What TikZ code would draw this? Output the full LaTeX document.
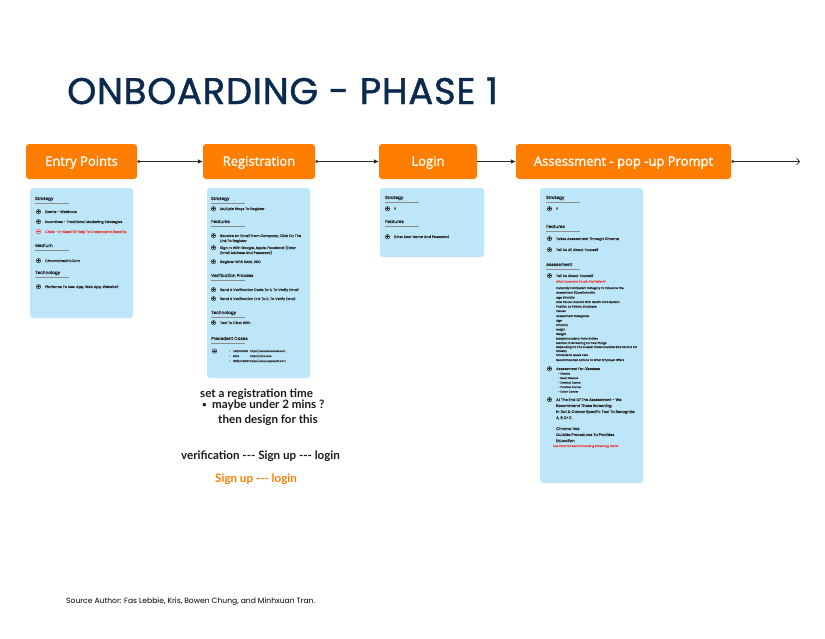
\documentclass[tikz,border=0pt]{standalone}
\usepackage{fontspec}
\setmainfont{Poppins}
\newfontfamily\ttlfont{Poppins}[LetterSpace=2,FakeBold=1.2]
\newfontfamily\btnfont{Open Sans}[FakeBold=1.5]
\newfontfamily\notefont{Lato}[Ligatures=TeXOff]
\newfontfamily\cardfont{Poppins}[FakeBold=0.4]
\newfontfamily\hdfont{Poppins}[FakeBold=0.9]
\usetikzlibrary{arrows.meta}
\definecolor{orng}{HTML}{FF7D00}
\definecolor{cardb}{HTML}{BEE6F9}
\definecolor{navy}{HTML}{0B2A4D}
\definecolor{redt}{HTML}{E8423F}
\definecolor{ink}{HTML}{2B2B2B}
\tikzset{
  hd/.style={anchor=base west, inner sep=0, font=\hdfont\fontsize{4.3}{5}\selectfont, text=ink},
  it/.style={anchor=base west, inner sep=0, font=\cardfont\fontsize{3.5}{4}\selectfont, text=ink},
  itb/.style={anchor=base west, inner sep=0, font=\cardfont\fontsize{3.7}{4.5}\selectfont, text=ink},
  sm/.style={anchor=base west, inner sep=0, font=\cardfont\fontsize{2.8}{3.3}\selectfont, text=ink},
  ic/.style={circle, draw=ink, line width=0.5pt, minimum size=4.4pt, inner sep=0,
    path picture={\draw[ink, line width=0.45pt]
      ([xshift=-1.3pt]path picture bounding box.center) -- ([xshift=1.3pt]path picture bounding box.center)
      ([yshift=-1.3pt]path picture bounding box.center) -- ([yshift=1.3pt]path picture bounding box.center);}},
  icr/.style={circle, draw=redt, line width=0.5pt, minimum size=4.4pt, inner sep=0,
    path picture={\draw[redt, line width=0.45pt]
      ([xshift=-1.3pt]path picture bounding box.center) -- ([xshift=1.3pt]path picture bounding box.center);}},
  ul/.style={draw=black!45, line width=0.35pt},
  btn/.style={rounded corners=3pt, fill=orng, text=white, font=\btnfont\fontsize{13}{15}\selectfont,
    inner sep=0, minimum height=35pt, text height=9.5pt, text depth=1pt},
  card/.style={rounded corners=3pt, fill=cardb, inner sep=0},
  conn/.style={draw=ink, line width=0.7pt},
  note/.style={anchor=base west, inner sep=0, font=\notefont\bfseries\fontsize{11.6}{13}\selectfont, text=black!90},
}
\newcommand\mkhd[4]{\node[hd] (#1) at (#2,#3) {#4}; \draw[ul] (#2,#3+3.3) -- (#2+34,#3+3.3);}
\newcommand\mkitm[4]{\node[ic] (#1i) at (#2-6.5,#3-1.3) {}; \node[it] (#1) at (#2,#3) {#4};}
\begin{document}
\begin{tikzpicture}[x=1pt,y=-1pt]
\fill[white] (0,0) rectangle (825,638);
\useasboundingbox (0,0) rectangle (825,638);

% title
\node[anchor=base west, inner sep=0, text=navy, font=\ttlfont\fontsize{37}{40}\selectfont] (title) at (67,104) {ONBOARDING - PHASE 1};

% buttons
\node[btn, minimum width=111pt] (entry) at (81.5,161.5) {Entry Points};
\node[btn, minimum width=112pt] (reg) at (259,161.5) {Registration};
\node[btn, minimum width=98pt] (login) at (428,161.5) {Login};
\node[btn, minimum width=215pt] (assess) at (623.5,161.5) {Assessment - pop -up Prompt};
\coordinate (endpt) at (800,161.5);

\draw[conn, {Circle[open,length=3pt,width=3pt,fill=white]}-{Latex[length=5pt,width=4.5pt]}] (entry.east) -- (reg.west);
\draw[conn, {Circle[open,length=3pt,width=3pt,fill=white]}-{Latex[length=5pt,width=4.5pt]}] (reg.east) -- (login.west);
\draw[conn, -{Latex[length=5pt,width=4.5pt]}] (login.east) -- (assess.west);
\draw[conn, {Circle[open,length=3pt,width=3pt,fill=white]}-{Straight Barb[length=3pt,width=7pt]}] (assess.east) -- (endpt);

% cards
\node[card, minimum width=103pt, minimum height=130pt] (c1) at (81.5,253) {};
\node[card, minimum width=103pt, minimum height=190pt] (c2) at (258.5,283) {};
\node[card, minimum width=104pt, minimum height=69pt] (c3) at (432,222.5) {};
\node[card, minimum width=103pt, minimum height=295pt] (c4) at (591.5,335.5) {};

% entry card
\mkhd{eh1}{35}{200}{Strategy}
\mkitm{ea1}{45}{213}{Events - Webinars}
\mkitm{ea2}{45}{223}{Incentives - Traditional Marketing Strategies}
\node[icr] (ea3i) at (38.5,231.7) {};
\node[it, text=redt] (ea3) at (45,233) {Crisis - In Need Of Help To Understand Benefits};
\mkhd{eh2}{35}{247}{Medium}
\mkitm{eb1}{45}{262}{Chromahealth.Com}
\mkhd{eh3}{35}{274}{Technology}
\mkitm{ec1}{45}{288}{Platforms To Use: App, Web App, Website?}

% registration card
\mkhd{rh1}{211}{200}{Strategy}
\mkitm{ra1}{220}{210}{Multiple Ways To Register}
\mkhd{rh2}{211}{223}{Features}
\mkitm{rb1}{220}{237}{Receive An Email From Company, Click On The}
\node[it] (rb1b) at (220,242) {Link To Register};
\mkitm{rb2}{220}{249}{Sign In With Google, Apple, Facebook (Enter}
\node[it] (rb2b) at (220,254) {Email Address And Password)};
\mkitm{rb3}{220}{263}{Register With SAML SSO}
\mkhd{rh3}{211}{277}{Verification Process}
\mkitm{rc1}{220}{291}{Send A Verification Code To It, To Verify Email}
\mkitm{rc2}{220}{300}{Send A Verification Link To It, To Verify Email}
\mkhd{rh4}{211}{314}{Technology}
\mkitm{rd1}{220}{324}{Text To Chat With}
\mkhd{rh5}{211}{340}{Precedent Cases}
\node[ic] (rei) at (214.5,351) {};
\node[sm] (re1d) at (229,352) {\textbullet};
\node[sm] (re1) at (233,352) {Lemonade};
\node[sm, font=\cardfont\fontsize{2.5}{3}\selectfont] (re1u) at (250,352) {https://www.lemonade.com};
\node[sm] (re2d) at (229,357) {\textbullet};
\node[sm] (re2) at (233,357) {Miro};
\node[sm, font=\cardfont\fontsize{2.5}{3}\selectfont] (re2u) at (250,357) {https://miro.com};
\node[sm] (re3d) at (229,362) {\textbullet};
\node[sm] (re3) at (233,362) {Rally Health};
\node[sm, font=\cardfont\fontsize{2.5}{3}\selectfont] (re3u) at (250,362) {https://www.rallyhealth.com};

% login card
\mkhd{lh1}{385}{199}{Strategy}
\mkitm{la1}{394}{210}{?}
\mkhd{lh2}{385}{223}{Features}
\mkitm{lb1}{394}{238}{Enter User Name And Password}

% assessment card
\mkhd{ah1}{546}{199}{Strategy}
\mkitm{aa1}{556}{210}{?}
\mkhd{ah2}{546}{228}{Features}
\mkitm{ab1}{556}{240}{Takes Assessment Through Chroma}
\mkitm{ab2}{556}{251}{Tell Us All About Yourself}
\mkhd{ah3}{546}{266}{Assessment}
\mkitm{ac1}{556}{277}{Tell Us About Yourself}
\node[sm, text=redt] (ac2) at (556,282.5) {What Questions To Ask The Patient?};
\node[sm] (ac3) at (556,289) {Culturally Competent Category To Influence The};
\node[sm] (ac4) at (556,293.5) {Assessment (Questionnaire};
\node[sm] (ac5) at (556,298.5) {Age, Ethnicity};
\node[sm] (ac6) at (556,303) {How Person Interact With Health Care System};
\node[sm] (ac7) at (556,307.5) {Position As Patient, Employee};
\node[sm] (ac8) at (556,312) {Values};
\node[sm] (ac9) at (556,317) {Assessment Categories};
\node[sm] (ac10) at (556,321.5) {Age};
\node[sm] (ac11) at (556,326) {Ethnicity};
\node[sm] (ac12) at (556,330.5) {Height};
\node[sm] (ac13) at (556,335) {Weight};
\node[sm] (ac14) at (556,339.5) {Maybe Include In Form Entries};
\node[sm] (ac15) at (556,344) {Mention In Screening For Few Things};
\node[sm] (ac16) at (556,348) {Depending On The Answer There Could Be Risk Factors For};
\node[sm] (ac17) at (556,352) {Obesity};
\node[sm] (ac18) at (556,356) {Cholesterol Levels Test};
\node[sm] (ac19) at (556,361) {Recommended Actions To What Employer Offers};
\mkitm{ad1}{556}{370}{Assessment For Diseases}
\node[sm, font=\cardfont\fontsize{2.6}{3}\selectfont] (ad2) at (558,374.5) {- Obesity};
\node[sm, font=\cardfont\fontsize{2.6}{3}\selectfont] (ad3) at (558,379) {- Heart Disease};
\node[sm, font=\cardfont\fontsize{2.6}{3}\selectfont] (ad4) at (558,383.5) {- Cervical Cancer};
\node[sm, font=\cardfont\fontsize{2.6}{3}\selectfont] (ad5) at (558,388) {- Prostate Cancer};
\node[sm, font=\cardfont\fontsize{2.6}{3}\selectfont] (ad6) at (558,392.5) {- Colon Cancer};
\node[ic] (ae1i) at (549.5,399.6) {};
\node[itb] (ae1) at (556,401) {At The End Of The Assessment - We};
\node[itb] (ae2) at (556,407) {Recommend These Screening};
\node[itb] (ae3) at (556,413) {In Dot \& Cancer Specific Tool To Recognize};
\node[itb] (ae4) at (556,419) {A, B Or C};
\node[itb] (af1) at (556,430) {Chroma Has};
\node[itb] (af2) at (556,436) {Outside Procedures To Provides};
\node[itb] (af3) at (556,442) {Education};
\node[sm, text=redt] (af4) at (553,447) {Use Chat For Recommending Screening Tests?};

% notes
\node[note] (n1) at (200,397) {set a registration time};
\node[note, font=\notefont\bfseries\fontsize{8}{10}\selectfont] (n2d) at (202,407) {\textbullet};
\node[note] (n2) at (212,408) {maybe under 2 mins ?};
\node[note] (n3) at (218,423) {then design for this};
\node[note] (n4) at (181,459) {verification --- Sign up --- login};
\node[note, text=orng] (n5) at (215,482) {Sign up --- login};

% footer
\node[anchor=base west, inner sep=0, font=\fontsize{7.6}{9}\selectfont, text=black] (src) at (66,603) {Source Author: Fas Lebbie, Kris, Bowen Chung, and Minhxuan Tran.};
\end{tikzpicture}
\end{document}
